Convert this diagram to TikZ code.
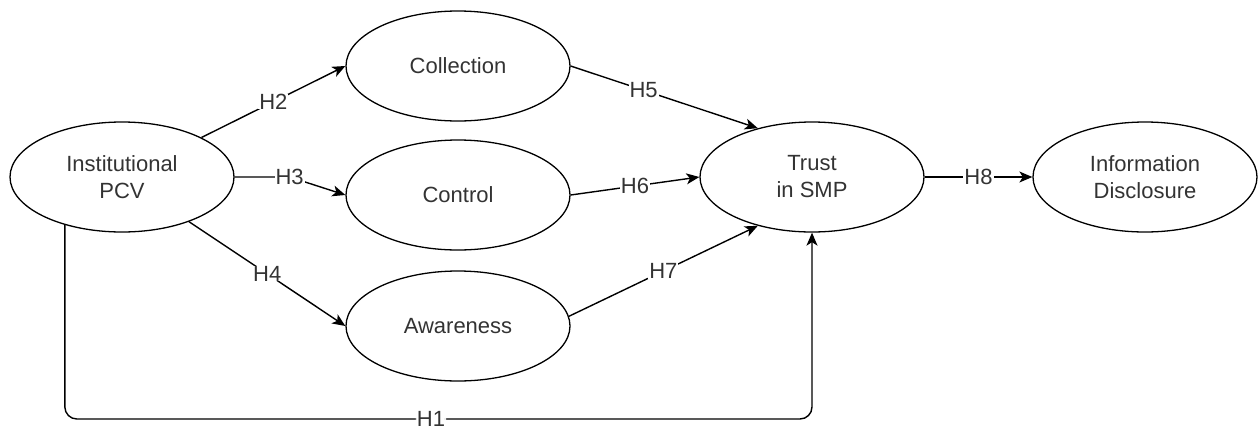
\documentclass[tikz,border=0pt]{standalone}
\usepackage{fontspec}
\setmainfont{Liberation Sans}
\usetikzlibrary{arrows.meta,shapes.geometric,calc}
\definecolor{txt}{HTML}{333333}
\begin{document}
\begin{tikzpicture}[x=1pt,y=-1pt,
  every node/.style={font=\fontsize{22}{27}\selectfont, text=txt},
  latent/.style={ellipse, draw=black, line width=1.3pt, minimum width=224pt, minimum height=110pt, inner sep=0pt, align=center},
  arr/.style={draw=black, line width=1.4pt, -{Stealth[length=13pt,width=11pt,inset=3.5pt]}},
  lbl/.style={fill=white, inner xsep=1pt, inner ysep=0pt}]
\useasboundingbox (0,0) rectangle (1258,429);
\node[latent] (pcv)   at (122,177)  {Institutional\\PCV};
\node[latent] (coll)  at (458,66)   {Collection};
\node[latent] (ctrl)  at (458,195)  {Control};
\node[latent] (aware) at (458,326)  {Awareness};
\node[latent] (trust) at (812,177)  {Trust\\in SMP};
\node[latent] (info)  at (1145,177) {Information\\Disclosure};
\coordinate (base) at (0,419);
\draw[arr] (pcv) -- node[lbl]{H2} (coll.west);
\draw[arr] (pcv.east) -- ++(55,0) node[lbl]{H3} -- (ctrl.west);
\draw[arr] (pcv) -- node[lbl]{H4} (aware.west);
\draw[arr] (coll.east) -- node[lbl,pos=0.39]{H5} (trust.138);
\draw[arr] (ctrl.east) -- node[lbl]{H6} (trust.west);
\draw[arr] (aware.5) -- node[lbl]{H7} (trust.222);
\draw[arr] (trust.east) -- node[lbl]{H8} (info.west);
\draw[arr, rounded corners=12pt] (pcv.220.6) |- node[lbl,pos=0.745]{H1} (trust.south |- base) -- (trust.south);
\end{tikzpicture}
\end{document}
